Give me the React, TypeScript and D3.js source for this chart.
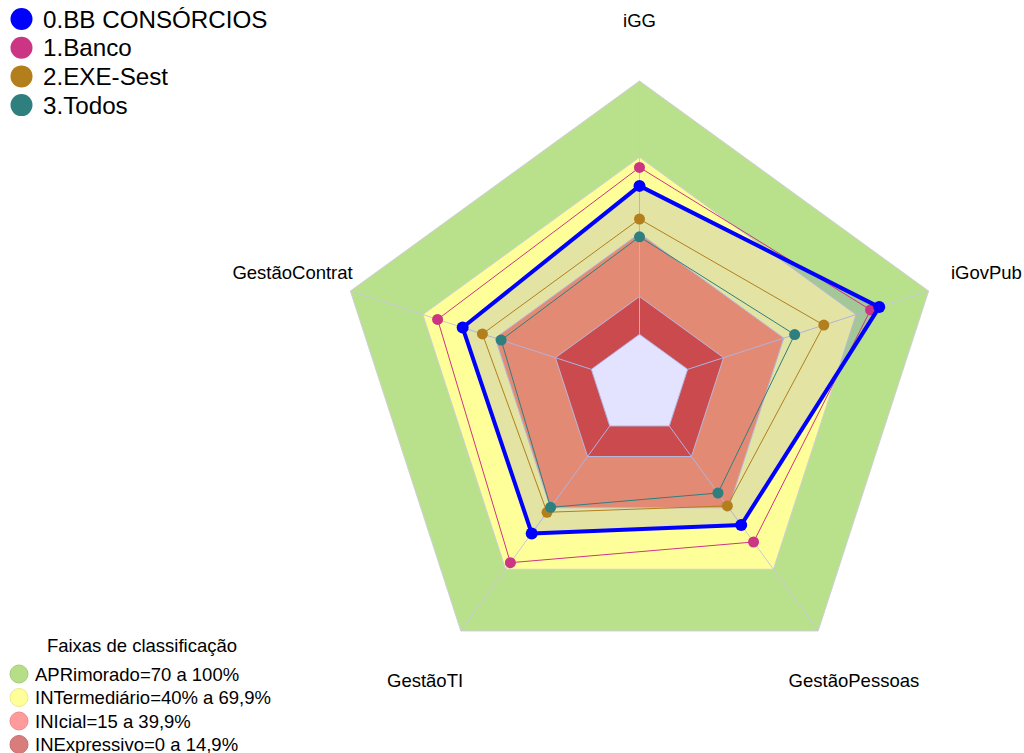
import React from "react";
import * as d3 from "d3";

const AXES = ["iGG", "iGovPub", "GestãoPessoas", "GestãoTI", "GestãoContrat"];

const SERIES_NAMES = ["0.BB CONSÓRCIOS", "1.Banco", "2.EXE-Sest", "3.Todos"];
const SERIES_COLORS = ["#0000FF", "#CC3584", "#B27F1C", "#2F7F7F"];
const BB_VALUES = [58.6, 79.5, 48.3, 52.4, 53.4];
const BANCO_VALUES = [65.9, 75.9, 56.6, 66.7, 63.8];
const EXE_VALUES = [45.5, 56.5, 39.0, 42.1, 45.2];
const TODOS_VALUES = [38.5, 44.4, 32.7, 39.7, 37.4];
const SERIES_VALUES = [BB_VALUES, BANCO_VALUES, EXE_VALUES, TODOS_VALUES];

const BAND_LIMITS = [100, 69.9, 39.9, 14.9];
const BAND_COLORS = ["#B9E08B", "#FFFF99", "#FF9C63", "#E35438"];
const BAND_LEGEND = [
  "APRimorado=70 a 100%",
  "INTermediário=40% a 69,9%",
  "INIcial=15 a 39,9%",
  "INExpressivo=0 a 14,9%",
];
const BAND_LEGEND_COLORS = ["#B6DD88", "#FFFF99", "#FF9B9B", "#D97C7C"];
const BAND_LEGEND_STROKES = ["#A6CD7A", "#EAEA8A", "#EE8A8A", "#C86C6C"];
const BAND_TITLE = "Faixas de classificação";
const SCALE_MIN = 0;
const SCALE_MAX = 100;

export default function App() {
  const W = 1024;
  const H = 753;
  const cx = 639.5;
  const cy = 385;
  const R = 304;
  const font = "'Liberation Sans', Arial, sans-serif";

  const r = d3.scaleLinear().domain([SCALE_MIN, SCALE_MAX]).range([R / 6, R]);
  const angle = d3
    .scaleLinear()
    .domain([0, AXES.length])
    .range([-Math.PI / 2, (3 * Math.PI) / 2]);

  const pt = (i: number, v: number): [number, number] => {
    const a = angle(i);
    return [cx + r(v) * Math.cos(a), cy + r(v) * Math.sin(a)];
  };
  const line = d3
    .line<[number, number]>()
    .x((d) => d[0])
    .y((d) => d[1])
    .curve(d3.curveLinearClosed);

  const ring = (v: number) => line(AXES.map((_, i) => pt(i, v)) as [number, number][]) || "";

  // draw order: Banco, EXE, Todos, BB on top
  const order = [1, 2, 3, 0];

  return (
    <svg
      width={W}
      height={H}
      style={{ position: "absolute", left: 0, top: 0, background: "#fff" }}
      fontFamily={font}
    >
      {/* bands */}
      {BAND_LIMITS.map((lim, k) => (
        <path key={"b" + k} d={ring(lim)} fill={BAND_COLORS[k]} stroke="#CFCFD8" strokeWidth={1} />
      ))}
      <path d={ring(SCALE_MIN)} fill="#FFFFFF" stroke="#C8C8DA" strokeWidth={1} />
      {/* spokes */}
      {AXES.map((_, i) => {
        const [x1, y1] = pt(i, SCALE_MIN);
        const [x2, y2] = pt(i, SCALE_MAX);
        return <line key={"s" + i} x1={x1} y1={y1} x2={x2} y2={y2} stroke="#C8C8DA" strokeWidth={1} />;
      })}
      {/* blue fill */}
      <path
        d={line(BB_VALUES.map((v, i) => pt(i, v)) as [number, number][]) || ""}
        fill="rgba(0,0,255,0.11)"
        stroke="none"
      />
      {/* series lines */}
      {order.map((s) => (
        <g key={"l" + s}>
          <path
            d={line(SERIES_VALUES[s].map((v, i) => pt(i, v)) as [number, number][]) || ""}
            fill="none"
            stroke={SERIES_COLORS[s]}
            strokeWidth={s === 0 ? 4 : 1}
            strokeLinejoin="round"
          />
          {SERIES_VALUES[s].map((v, i) => {
            const [x, y] = pt(i, v);
            return <circle key={i} cx={x} cy={y} r={s === 0 ? 6 : 5.5} fill={SERIES_COLORS[s]} />;
          })}
        </g>
      ))}
      {/* axis labels */}
      {AXES.map((name, i) => {
        const a = angle(i);
        const x = cx + 1.2 * R * Math.cos(a);
        const y = cy + 1.2 * R * Math.sin(a);
        return (
          <text key={"a" + i} x={x} y={y} dy="0.35em" textAnchor="middle" fontSize={18.5} fill="#000">
            {name}
          </text>
        );
      })}
      {/* top legend */}
      {SERIES_NAMES.map((n, k) => (
        <g key={"lg" + k}>
          <circle cx={21.5} cy={19 + k * 28.7} r={11} fill={SERIES_COLORS[k]} />
          <text x={43} y={19 + k * 28.7} dy="0.36em" fontSize={24.2} fill="#000">
            {n}
          </text>
        </g>
      ))}
      {/* bottom legend */}
      <text x={142} y={646} dy="0.35em" textAnchor="middle" fontSize={18.5} fill="#000">
        {BAND_TITLE}
      </text>
      {BAND_LEGEND.map((n, k) => (
        <g key={"bl" + k}>
          <circle
            cx={19}
            cy={674 + k * 23.5}
            r={9}
            fill={BAND_LEGEND_COLORS[k]}
            stroke={BAND_LEGEND_STROKES[k]}
            strokeWidth={1}
          />
          <text x={35} y={674 + k * 23.5} dy="0.36em" fontSize={18.5} fill="#000">
            {n}
          </text>
        </g>
      ))}
    </svg>
  );
}
